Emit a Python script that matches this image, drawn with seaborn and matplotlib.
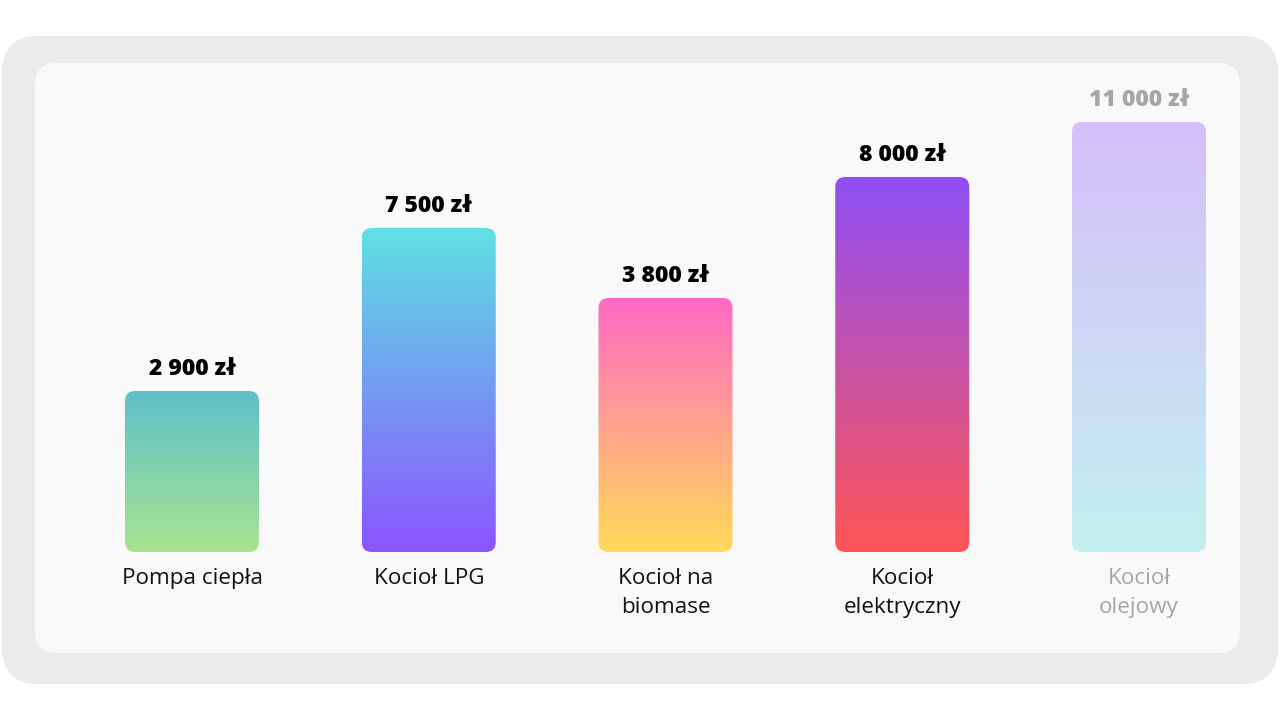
import numpy as np
import pandas as pd
import matplotlib
matplotlib.use("Agg")
import matplotlib.pyplot as plt
from matplotlib.patches import FancyBboxPatch
from matplotlib.colors import to_rgb
import seaborn as sns

# ---- data ----
categories = ["Pompa ciepła", "Kocioł LPG", "Kocioł na\nbiomase", "Kocioł\nelektryczny", "Kocioł\nolejowy"]
values = [2900, 7500, 3800, 8000, 11000]
# visual bar heights as drawn in the reference (px)
bar_heights = [161, 324, 254, 375, 430]
top_colors = ["#5fbfca", "#5ee0e4", "#ff69c4", "#8f4ff6", "#d6bffa"]
bottom_colors = ["#a9e391", "#8b55ff", "#ffdb58", "#ff5555", "#c2f0f0"]
label_colors = ["#000000", "#000000", "#000000", "#000000", "#a6a6a6"]
cat_colors = ["#111111", "#111111", "#111111", "#111111", "#a6a6a6"]

def fmt(v):
    return f"{v:,}".replace(",", " ") + " zł"

sns.set_theme(style="white")
plt.rcParams['font.family'] = ['Open Sans', 'DejaVu Sans']

W, H = 1280, 720
fig = plt.figure(figsize=(12.8, 7.2), dpi=100)
fig.patch.set_facecolor("white")

# background panels (pixel coordinates)
bg = fig.add_axes([0, 0, 1, 1], zorder=0)
bg.set_xlim(0, W)
bg.set_ylim(H, 0)
bg.axis("off")
bg.add_patch(FancyBboxPatch((2, 36), 1276, 648, boxstyle="round,pad=0,rounding_size=36",
                            facecolor="#ebebeb", edgecolor="none"))
bg.add_patch(FancyBboxPatch((35, 63), 1205, 590, boxstyle="round,pad=0,rounding_size=22",
                            facecolor="#f9f9f9", edgecolor="none"))

# main axes: x categorical, y in pixels
ax = fig.add_axes([0, 0, 1, 1], zorder=1)
ax.patch.set_alpha(0)
df = pd.DataFrame({"cat": categories, "h": bar_heights})
sns.barplot(data=df, x="cat", y="h", ax=ax, width=0.566, color="#cccccc")

px_per_unit = 236.75
x0_px = 192
base_px = 552

r_px = 10
for i, p in enumerate(ax.patches):
    x, w, h = p.get_x(), p.get_width(), p.get_height()
    p.set_visible(False)
    c1 = np.array(to_rgb(top_colors[i]))
    c2 = np.array(to_rgb(bottom_colors[i]))
    t = np.linspace(0, 1, 256)[:, None]
    grad = (c1[None, :] * (1 - t) + c2[None, :] * t)[:, None, :]
    im = ax.imshow(grad, extent=[x, x + w, 0, h], aspect="auto", origin="upper",
                   interpolation="bilinear", zorder=2)
    clip = FancyBboxPatch((x, 0), w, h,
                          boxstyle=f"round,pad=0,rounding_size={r_px / px_per_unit}",
                          mutation_aspect=px_per_unit,
                          facecolor="none", edgecolor="none", transform=ax.transData)
    ax.add_patch(clip)
    im.set_clip_path(clip)
    ax.text(x + w / 2, h + 22, fmt(values[i]), ha="center", va="center",
            fontsize=16.6, fontweight="heavy", color=label_colors[i], zorder=3)
    ax.text(x + w / 2, -16, categories[i], ha="center", va="top",
            fontsize=16.2, color=cat_colors[i], linespacing=1.5, zorder=3)

ax.set_xlim(-x0_px / px_per_unit, (W - x0_px) / px_per_unit)
ax.set_ylim(-(H - base_px), base_px)
ax.axis("off")

fig.savefig("out.png", dpi=100, facecolor="white")
